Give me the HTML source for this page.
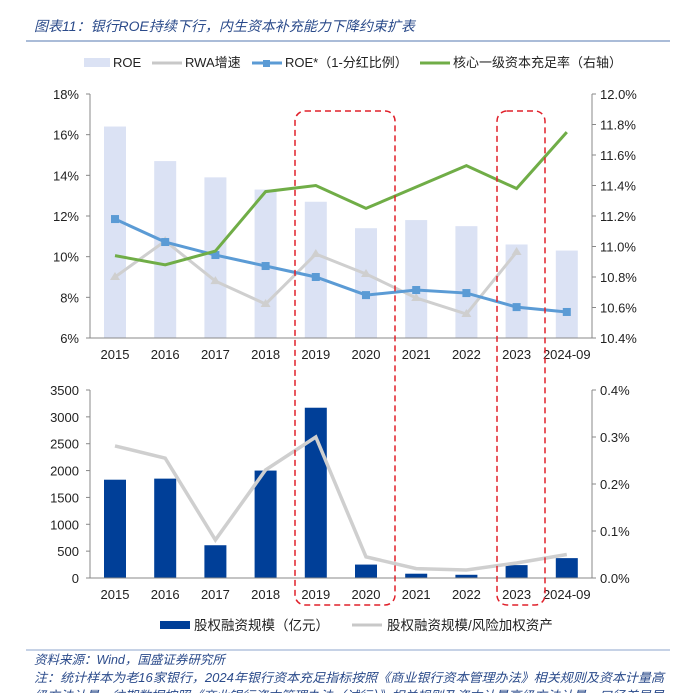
<!DOCTYPE html>
<html><head><meta charset="utf-8"><style>
body{margin:0;background:#fff;width:677px;height:693px;overflow:hidden;font-family:"Liberation Sans","Noto Sans CJK SC",sans-serif}
svg text{font-family:"Liberation Sans","Noto Sans CJK SC",sans-serif}
</style></head><body>
<svg id="c" width="677" height="693">
<text x="34" y="31" font-size="14" font-style="italic" fill="#2a4a8a">图表11：银行ROE持续下行，内生资本补充能力下降约束扩表</text>
<line x1="26" y1="41" x2="670" y2="41" stroke="#8ea6cc" stroke-width="1.5"/>
<g font-size="13" fill="#222">
<rect x="84" y="58" width="26" height="9" fill="#dbe2f4"/><text x="113" y="67">ROE</text>
<line x1="152" y1="63" x2="182" y2="63" stroke="#c8c8c8" stroke-width="3"/><text x="185" y="67">RWA增速</text>
<line x1="252" y1="63" x2="282" y2="63" stroke="#5b9bd5" stroke-width="3"/><rect x="263" y="60" width="7" height="7" fill="#5b9bd5"/><text x="285" y="67">ROE*（1-分红比例）</text>
<line x1="420" y1="63" x2="450" y2="63" stroke="#70ad47" stroke-width="3"/><text x="453" y="67">核心一级资本充足率（右轴）</text>
</g>
<g id="gtop"></g>
<g id="gbot"></g>
<rect x="295" y="111" width="100" height="494" rx="10" fill="none" stroke="#e0202a" stroke-width="1.5" stroke-dasharray="6,4"/>
<rect x="497" y="111" width="48" height="494" rx="10" fill="none" stroke="#e0202a" stroke-width="1.5" stroke-dasharray="6,4"/>
<g font-size="13.5" fill="#222">
<rect x="160" y="621" width="30" height="8" fill="#003f98"/><text x="194" y="630">股权融资规模（亿元）</text>
<line x1="352" y1="625" x2="382" y2="625" stroke="#c8c8c8" stroke-width="3"/><text x="387" y="630">股权融资规模/风险加权资产</text>
</g>
<line x1="26" y1="650" x2="670" y2="650" stroke="#8ea6cc" stroke-width="1"/>
<text x="34" y="664" font-size="12.5" font-style="italic" fill="#2a4a8a">资料来源：Wind，国盛证券研究所</text>
<text x="34" y="682" font-size="12.5" font-style="italic" fill="#2a4a8a" textLength="630" lengthAdjust="spacingAndGlyphs">注：统计样本为老16家银行，2024年银行资本充足指标按照《商业银行资本管理办法》相关规则及资本计量高</text>
<text x="34" y="700" font-size="12.5" font-style="italic" fill="#2a4a8a" textLength="630" lengthAdjust="spacingAndGlyphs">级方法计量，往期数据按照《商业银行资本管理办法（试行）》相关规则及资本计量高级方法计量，口径差异导</text>
</svg>
<script>
const categories=["2015","2016","2017","2018","2019","2020","2021","2022","2023","2024-09"];
const roe=[16.4,14.7,13.9,13.3,12.7,11.4,11.8,11.5,10.6,10.3];
const rwa=[9.0,10.77,8.8,7.67,10.13,9.15,7.97,7.18,10.23];
const roeStar=[11.85,10.72,10.08,9.54,9.0,8.11,8.36,8.21,7.52,7.28];
const cet1=[10.94,10.88,10.97,11.36,11.40,11.25,11.39,11.53,11.38,11.75];
const equity=[1830,1850,610,2000,3170,250,80,60,240,370];
const equityRatio=[0.281,0.255,0.081,0.23,0.30,0.045,0.02,0.017,0.032,0.05];
const leftTicksTop=[6,8,10,12,14,16,18];
const rightTicksTop=[10.4,10.6,10.8,11.0,11.2,11.4,11.6,11.8,12.0];
const leftTicksBot=[0,500,1000,1500,2000,2500,3000,3500];
const rightTicksBot=[0,0.1,0.2,0.3,0.4];
const NS='http://www.w3.org/2000/svg';
function mk(p,t,a){const e=document.createElementNS(NS,t);for(const k in a)e.setAttribute(k,a[k]);p.appendChild(e);return e;}
const x=i=>115+i*50.2;
const X0=90,X1=592;
const gTop=document.getElementById('gtop');
const yL=v=>338-(v-6)/12*244, yR=v=>338-(v-10.4)/1.6*244;
roe.forEach((v,i)=>{const r=mk(gTop,'rect',{x:x(i)-11,y:yL(v),width:22,height:338-yL(v),fill:'#dbe2f4'});

});
mk(gTop,'line',{x1:X0,y1:94,x2:X0,y2:338,stroke:'#888'});
mk(gTop,'line',{x1:X1,y1:94,x2:X1,y2:338,stroke:'#888'});
mk(gTop,'line',{x1:X0,y1:338,x2:X1,y2:338,stroke:'#888'});
leftTicksTop.forEach(v=>{const t=mk(gTop,'text',{x:79,y:yL(v)+5,'text-anchor':'end','font-size':13,fill:'#222'});t.textContent=v+'%';


mk(gTop,'line',{x1:X0-4,y1:yL(v),x2:X0,y2:yL(v),stroke:'#888'});});
rightTicksTop.forEach(v=>{const t=mk(gTop,'text',{x:600,y:yR(v)+5,'font-size':13,fill:'#222'});t.textContent=v.toFixed(1)+'%';


mk(gTop,'line',{x1:X1,y1:yR(v),x2:X1+4,y2:yR(v),stroke:'#888'});});
categories.forEach((c,i)=>{const t=mk(gTop,'text',{x:x(i),y:359,'text-anchor':'middle','font-size':13,fill:'#222'});t.textContent=c;

});
function line(g,arr,yf,col,w,name){const p=mk(g,'polyline',{points:arr.map((v,i)=>x(i)+','+yf(v)).join(' '),fill:'none',stroke:col,'stroke-width':w});

}
line(gTop,rwa,yL,'#cfcfcf',3,'rwa-line');
rwa.forEach((v,i)=>{mk(gTop,'path',{d:`M${x(i)-5},${yL(v)+3}L${x(i)},${yL(v)-5}L${x(i)+5},${yL(v)+3}Z`,fill:'#cfcfcf'});});
line(gTop,roeStar,yL,'#5b9bd5',3,'roe-star-line');
roeStar.forEach((v,i)=>{const r=mk(gTop,'rect',{x:x(i)-4,y:yL(v)-4,width:8,height:8,fill:'#5b9bd5'});

});
line(gTop,cet1,yR,'#70ad47',3,'cet1-line');
const gBot=document.getElementById('gbot');
const bL=v=>578-v/3500*188, bR=v=>578-v/0.4*188;
equity.forEach((v,i)=>{const r=mk(gBot,'rect',{x:x(i)-11,y:bL(v),width:22,height:578-bL(v),fill:'#003f98'});

});
mk(gBot,'line',{x1:X0,y1:390,x2:X0,y2:578,stroke:'#888'});
mk(gBot,'line',{x1:X1,y1:390,x2:X1,y2:578,stroke:'#888'});
mk(gBot,'line',{x1:X0,y1:578,x2:X1,y2:578,stroke:'#888'});
leftTicksBot.forEach(v=>{const t=mk(gBot,'text',{x:79,y:bL(v)+5,'text-anchor':'end','font-size':13,fill:'#222'});t.textContent=v;


mk(gBot,'line',{x1:X0-4,y1:bL(v),x2:X0,y2:bL(v),stroke:'#888'});});
rightTicksBot.forEach(v=>{const t=mk(gBot,'text',{x:600,y:bR(v)+5,'font-size':13,fill:'#222'});t.textContent=v.toFixed(1)+'%';


mk(gBot,'line',{x1:X1,y1:bR(v),x2:X1+4,y2:bR(v),stroke:'#888'});});
categories.forEach((c,i)=>{const t=mk(gBot,'text',{x:x(i),y:599,'text-anchor':'middle','font-size':13,fill:'#222'});t.textContent=c;

});
line(gBot,equityRatio,bR,'#cfcfcf',3.5,'equity-ratio-line');
</script>
</body></html>
